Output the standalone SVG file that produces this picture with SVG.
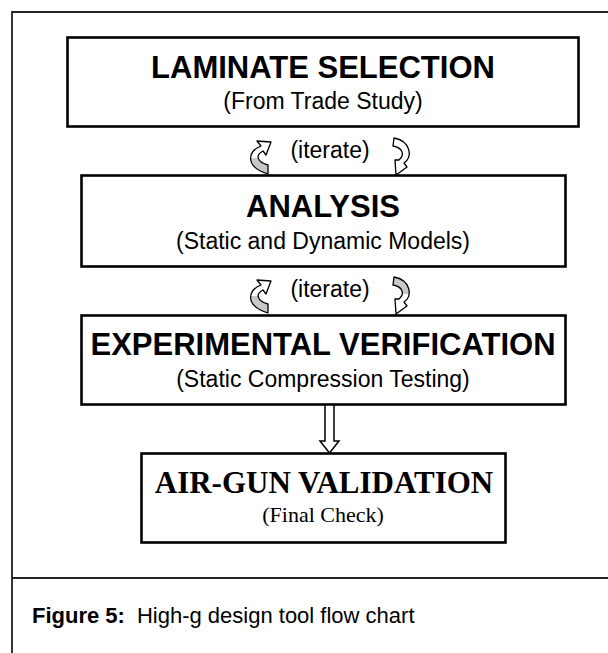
<svg xmlns="http://www.w3.org/2000/svg" width="608" height="653" viewBox="0 0 608 653">
<style>
.frame{fill:none;stroke:#222;stroke-width:1.8}
.box{fill:#fff;stroke:#000;stroke-width:2.6}
.title{font-family:"Liberation Sans",Arial,sans-serif;font-weight:bold;font-size:31px;text-anchor:middle;fill:#000}
.sub{font-family:"Liberation Sans",Arial,sans-serif;font-size:23px;text-anchor:middle;fill:#000}
.ttitle{font-family:"Liberation Serif","Times New Roman",serif;font-weight:bold;font-size:31px;text-anchor:middle;fill:#000}
.tsub{font-family:"Liberation Serif","Times New Roman",serif;font-size:22px;text-anchor:middle;fill:#000}
.iter{font-family:"Liberation Sans",Arial,sans-serif;font-size:23px;text-anchor:middle;fill:#000}
.cap{font-family:"Liberation Sans",Arial,sans-serif;font-size:22px;fill:#000}
.curl{stroke:#000;stroke-width:1.3;stroke-linejoin:round}
.block{fill:#fff;stroke:#000;stroke-width:1.5}
</style>
<defs>
<linearGradient id="grayBottom" x1="0" y1="0" x2="0" y2="1">
<stop offset="0" stop-color="#fff"/><stop offset="0.5" stop-color="#fff"/><stop offset="0.5" stop-color="#c8c8c8"/><stop offset="1" stop-color="#c8c8c8"/>
</linearGradient>
<linearGradient id="grayTop" x1="0" y1="0" x2="0" y2="1">
<stop offset="0" stop-color="#c8c8c8"/><stop offset="0.45" stop-color="#c8c8c8"/><stop offset="0.45" stop-color="#fff"/><stop offset="1" stop-color="#fff"/>
</linearGradient>
</defs>
<rect width="608" height="653" fill="#fff"/>
<g id="frame">
<path class="frame" d="M12,653 V12 H610 M12,578 H610"/>
</g>
<g id="node-laminate">
<rect class="box" x="67.5" y="37.5" width="511" height="89"/>
<text class="title" x="323" y="78">LAMINATE SELECTION</text>
<text class="sub" x="323" y="109">(From Trade Study)</text>
</g>
<g id="node-analysis">
<rect class="box" x="81.5" y="175.5" width="484" height="91"/>
<text class="title" x="323" y="217">ANALYSIS</text>
<text class="sub" x="323" y="249">(Static and Dynamic Models)</text>
</g>
<g id="node-experimental">
<rect class="box" x="81.5" y="315.5" width="484" height="89"/>
<text class="title" x="323" y="355">EXPERIMENTAL VERIFICATION</text>
<text class="sub" x="323" y="387">(Static Compression Testing)</text>
</g>
<g id="node-airgun">
<rect class="box" x="141.5" y="453.5" width="364" height="89"/>
<text class="ttitle" x="324" y="493">AIR-GUN VALIDATION</text>
<text class="tsub" x="323" y="522">(Final Check)</text>
</g>
<g id="connectors">
<g id="iterate-1">
<path class="curl" fill="url(#grayBottom)" d="M261,146 C247,151 245,167 268,174 L268,165 C257,162 255,155 263,151 L266,155 L271,142 L257,141 Z"/>
<text class="iter" x="330" y="158">(iterate)</text>
<path class="curl" fill="#fff" d="M394,138 C411,141 413,158 404,163 L407,167 L396,175 L395,160 L399,160 C405,155 403,148 393,146 Z"/>
</g>
<g id="iterate-2" transform="translate(0,139)">
<path class="curl" fill="url(#grayBottom)" d="M261,146 C247,151 245,167 268,174 L268,165 C257,162 255,155 263,151 L266,155 L271,142 L257,141 Z"/>
<text class="iter" x="330" y="158">(iterate)</text>
<path class="curl" fill="url(#grayTop)" d="M394,138 C411,141 413,158 404,163 L407,167 L396,175 L395,160 L399,160 C405,155 403,148 393,146 Z"/>
</g>
<polygon class="block" points="325,405 334,405 334,441 339,441 329.5,453 320,441 325,441"/>
</g>
<g id="caption">
<text class="cap" x="32" y="623"><tspan font-weight="bold">Figure 5:</tspan><tspan dx="12">High-g design tool flow chart</tspan></text>
</g>
</svg>
